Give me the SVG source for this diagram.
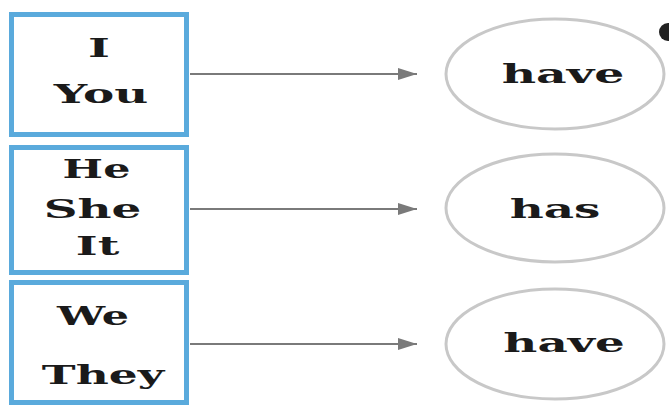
<svg xmlns="http://www.w3.org/2000/svg" width="669" height="405" viewBox="0 0 669 405">
  <style>
    .box { fill: #ffffff; stroke: #5aaadc; stroke-width: 5; }
    .oval { fill: #ffffff; stroke: #c8c8c8; stroke-width: 3; }
    .lbl { font-family: "DejaVu Serif", "Liberation Serif", serif; font-weight: bold; font-size: 26px; fill: #1a1a1a; text-anchor: middle; }
    .link { stroke: #7a7a7a; stroke-width: 2; fill: none; }
  </style>
  <defs>
    <marker id="arrow" markerUnits="userSpaceOnUse" markerWidth="20" markerHeight="14" refX="19" refY="7" orient="auto">
      <path d="M0,1 L19,7 L0,13 Z" fill="#7a7a7a"/>
    </marker>
  </defs>
  <rect width="669" height="405" fill="#ffffff"/>

  <!-- subject pronoun boxes; labels are drawn wide (x scale ~1.8) -->
  <g id="box-i-you">
    <rect class="box" x="11.5" y="14.5" width="175" height="120"/>
    <text class="lbl" transform="translate(99 57) scale(1.8 1)">I</text>
    <text class="lbl" transform="translate(101 103) scale(1.8 1)">You</text>
  </g>
  <g id="box-he-she-it">
    <rect class="box" x="11.5" y="147.5" width="175" height="125"/>
    <text class="lbl" transform="translate(96.5 178) scale(1.65 1)">He</text>
    <text class="lbl" transform="translate(92.5 218) scale(1.8 1)">She</text>
    <text class="lbl" transform="translate(97.5 255) scale(1.8 1)">It</text>
  </g>
  <g id="box-we-they">
    <rect class="box" x="11.5" y="282.5" width="175" height="120"/>
    <text class="lbl" transform="translate(93 325) scale(1.65 1)">We</text>
    <text class="lbl" transform="translate(103 384) scale(1.75 1)">They</text>
  </g>

  <!-- verb forms -->
  <g id="verb-have-1">
    <ellipse class="oval" cx="555" cy="74" rx="109" ry="55"/>
    <text class="lbl" transform="translate(563 83) scale(1.82 1)">have</text>
  </g>
  <g id="verb-has">
    <ellipse class="oval" cx="555" cy="208" rx="109" ry="54"/>
    <text class="lbl" transform="translate(555 218) scale(1.8 1)">has</text>
  </g>
  <g id="verb-have-2">
    <ellipse class="oval" cx="555" cy="344" rx="109" ry="55"/>
    <text class="lbl" transform="translate(564 352) scale(1.8 1)">have</text>
  </g>

  <!-- connectors -->
  <g id="connectors">
    <line class="link" x1="190" y1="74" x2="417" y2="74" marker-end="url(#arrow)"/>
    <line class="link" x1="190" y1="209" x2="417" y2="209" marker-end="url(#arrow)"/>
    <line class="link" x1="190" y1="344" x2="417" y2="344" marker-end="url(#arrow)"/>
  </g>

  <!-- dot at the top-right corner -->
  <circle cx="668" cy="32" r="9" fill="#222222"/>
</svg>
